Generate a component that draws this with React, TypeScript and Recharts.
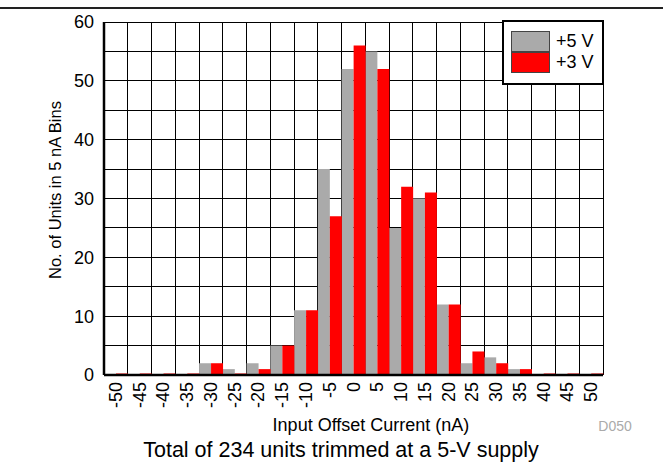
import { BarChart, Bar, XAxis, YAxis, CartesianGrid, Label } from 'recharts'

const bins = ['-50', '-45', '-40', '-35', '-30', '-25', '-20', '-15', '-10', '-5', '0', '5', '10', '15', '20', '25', '30', '35', '40', '45', '50']
const units5V = [0, 0, 0, 0, 2, 1, 2, 5, 11, 35, 52, 55, 25, 30, 12, 2, 3, 1, 0, 0, 0]
const units3V = [0, 0, 0, 0, 2, 0, 1, 5, 11, 27, 56, 52, 32, 31, 12, 4, 2, 1, 0, 0, 0]
const yTicks = [0, 5, 10, 15, 20, 25, 30, 35, 40, 45, 50, 55, 60]

const FONT = '"Liberation Sans", Arial, sans-serif'

const data = bins.map((bin, i) => ({ bin, v5: units5V[i], v3: units3V[i] }))

function XTick({ x, y, payload }: any) {
  return (
    <text
      x={x}
      y={y}
      transform={`rotate(-90, ${x}, ${y})`}
      textAnchor="end"
      dominantBaseline="central"
      fontSize={18}
      fill="#000"
      fontFamily={FONT}
    >
      {payload.value}
    </text>
  )
}

// grid lines sit on the bin edges, not the bin centres
function binEdges({ offset }: any) {
  const n = bins.length
  return Array.from({ length: n + 1 }, (_, i) => offset.left + (i * offset.width) / n)
}

export default function App() {
  return (
    <div style={{ position: 'absolute', left: 0, top: 0, width: 663, height: 471, background: '#fff', fontFamily: FONT }}>
      <div style={{ position: 'absolute', left: 0, top: 7, width: 663, height: 1.5, background: '#222' }} />

      <BarChart
        width={663}
        height={471}
        data={data}
        margin={{ top: 22, right: 60, left: 44, bottom: 46 }}
        barCategoryGap={0}
        barGap={0}
      >
        <CartesianGrid stroke="#000" strokeWidth={1} shapeRendering="crispEdges" verticalCoordinatesGenerator={binEdges} />

        <XAxis
          dataKey="bin"
          height={50}
          tickLine={false}
          tickSize={0}
          tickMargin={7}
          interval={0}
          tick={<XTick />}
          axisLine={{ stroke: '#000', strokeWidth: 2.5 }}
        >
          <Label
            content={() => (
              <g fontFamily={FONT}>
                <text x={371} y={425} textAnchor="middle" dominantBaseline="central" fontSize={18} fill="#000">
                  Input Offset Current (nA)
                </text>
                <text x={615} y={426} textAnchor="middle" dominantBaseline="central" fontSize={14} fill="#aaa">
                  D050
                </text>
                <text x={341} y={450} textAnchor="middle" dominantBaseline="central" fontSize={21.5} fill="#000">
                  Total of 234 units trimmed at a 5-V supply
                </text>
              </g>
            )}
          />
        </XAxis>
        <XAxis
          xAxisId="top"
          dataKey="bin"
          orientation="top"
          height={0}
          tick={false}
          tickLine={false}
          axisLine={{ stroke: '#000', strokeWidth: 2.5 }}
        />

        <YAxis
          width={60}
          domain={[0, 60]}
          ticks={yTicks}
          interval={0}
          tickLine={false}
          tickSize={8}
          tickFormatter={(v) => (v % 10 === 0 ? String(v) : '')}
          tick={{ fontSize: 18, fill: '#000', fontFamily: FONT }}
          axisLine={{ stroke: '#000', strokeWidth: 2.5 }}
        >
          <Label
            content={() => (
              <text
                x={55}
                y={190}
                transform="rotate(-90, 55, 190)"
                textAnchor="middle"
                dominantBaseline="central"
                fontSize={16.5}
                fill="#000"
                fontFamily={FONT}
              >
                No. of Units in 5 nA Bins
              </text>
            )}
          />
        </YAxis>
        <YAxis
          yAxisId="right"
          orientation="right"
          width={0}
          domain={[0, 60]}
          tick={false}
          tickLine={false}
          axisLine={{ stroke: '#000', strokeWidth: 2.5 }}
        />

        <Bar dataKey="v5" name="+5 V" fill="#aaaaaa" isAnimationActive={false} />
        <Bar dataKey="v3" name="+3 V" fill="#ff0000" minPointSize={1.5} isAnimationActive={false} />
      </BarChart>

      <div
        style={{
          position: 'absolute',
          left: 502,
          top: 20,
          width: 98,
          height: 61,
          border: '2.5px solid #000',
          background: '#fff',
        }}
      >
        {[
          { label: '+5 V', color: '#aaaaaa' },
          { label: '+3 V', color: '#ff0000' },
        ].map((item, i) => (
          <div key={item.label} style={{ position: 'absolute', left: 7, top: 9 + i * 21, height: 21, display: 'flex', alignItems: 'center' }}>
            <div style={{ width: 37, height: 19, background: item.color, border: '1px solid #444' }} />
            <span style={{ marginLeft: 6, fontSize: 18, lineHeight: '21px' }}>{item.label}</span>
          </div>
        ))}
      </div>
    </div>
  )
}
